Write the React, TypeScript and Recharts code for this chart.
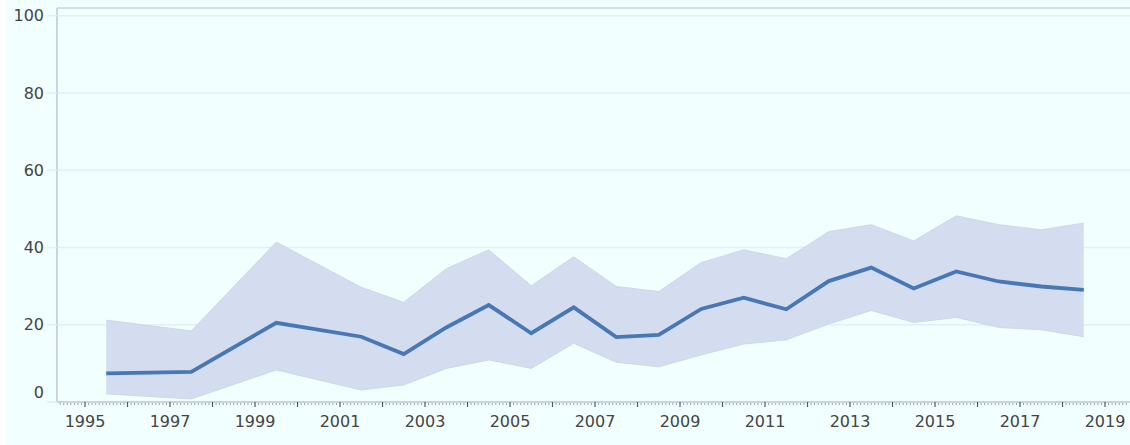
import React from "react";
import { ComposedChart, Area, Line, XAxis, YAxis, CartesianGrid, ReferenceLine } from "recharts";

const years = [1995.5, 1997.5, 1999.5, 2001.5, 2002.5, 2003.5, 2004.5, 2005.5, 2006.5, 2007.5, 2008.5, 2009.5, 2010.5, 2011.5, 2012.5, 2013.5, 2014.5, 2015.5, 2016.5, 2017.5, 2018.5];
const meanValues = [7.4, 7.8, 20.5, 16.9, 12.4, 19.3, 25.1, 17.8, 24.5, 16.8, 17.4, 24.1, 27.0, 24.0, 31.3, 34.8, 29.4, 33.8, 31.2, 29.9, 29.0];
const upperValues = [21.2, 18.4, 41.4, 29.7, 25.8, 34.5, 39.4, 30.1, 37.6, 29.9, 28.6, 36.1, 39.4, 37.1, 44.1, 45.9, 41.7, 48.2, 45.9, 44.6, 46.3];
const lowerValues = [2.1, 0.8, 8.3, 3.1, 4.4, 8.7, 10.9, 8.7, 15.2, 10.3, 9.1, 12.2, 15.0, 16.1, 20.2, 23.7, 20.6, 21.9, 19.3, 18.7, 16.9];

const xTicks = [1995, 1996, 1997, 1998, 1999, 2000, 2001, 2002, 2003, 2004, 2005, 2006, 2007, 2008, 2009, 2010, 2011, 2012, 2013, 2014, 2015, 2016, 2017, 2018, 2019];
const yTicks = [0, 20, 40, 60, 80, 100];

const minorTicks: number[] = [];
for (let y = 1994; y <= 2019; y++) {
  for (let m = 1; m < 12; m++) {
    const v = y + m / 12;
    if (v > 1994.35 && v < 2019.58) minorTicks.push(v);
  }
}

const data = years.map((year, i) => ({
  year,
  mean: meanValues[i],
  band: [lowerValues[i], upperValues[i]],
}));

const FONT = "'DejaVu Sans', Verdana, sans-serif";

const YTick = (props: any) => {
  const { x, y, payload } = props;
  const dy = payload.value === 0 ? -10 : 0;
  return (
    <text x={x} y={y + dy} dy="0.355em" textAnchor="end" fill="#444" fontSize={16} fontFamily={FONT}>
      {payload.value}
    </text>
  );
};

const MinorTick = (props: any) => {
  const { x, y } = props;
  return <line x1={x} x2={x} y1={y + 1} y2={y + 3} stroke="#9aa0a8" strokeWidth={1} />;
};

export default function App() {
  return (
    <div style={{ position: "absolute", left: 6, top: 0, width: 1124, height: 445, background: "#F2FFFF" }}>
      <ComposedChart width={1124} height={445} data={data} margin={{ top: 8, right: 0, bottom: 0, left: 0 }}>
        <CartesianGrid horizontal vertical={false} stroke="#e2eefa" strokeWidth={1.5} />
        <XAxis
          xAxisId="main"
          dataKey="year"
          type="number"
          domain={[1994.341, 2019.588]}
          allowDataOverflow
          ticks={xTicks}
          interval={0}
          tickFormatter={(v: number) => (v % 2 === 1 ? String(v) : "")}
          height={43}
          tickSize={5}
          tickMargin={9}
          axisLine={{ stroke: "#c9d3e6", strokeWidth: 2 }}
          tickLine={{ stroke: "#555", strokeWidth: 1.2 }}
          tick={{ fill: "#444", fontSize: 16, fontFamily: FONT }}
        />
        <XAxis
          xAxisId="minor"
          dataKey="year"
          type="number"
          orientation="bottom"
          mirror
          domain={[1994.341, 2019.588]}
          allowDataOverflow
          ticks={minorTicks}
          interval={0}
          height={1}
          tickSize={0}
          tickMargin={0}
          axisLine={false}
          tickLine={false}
          tick={<MinorTick />}
        />
        <YAxis
          type="number"
          domain={[0, 102]}
          ticks={yTicks}
          interval={0}
          width={51}
          tickSize={10}
          tickMargin={3}
          axisLine={{ stroke: "#c9d3e6", strokeWidth: 2 }}
          tickLine={{ stroke: "#e2eefa", strokeWidth: 1.5 }}
          tick={<YTick />}
        />
        <ReferenceLine xAxisId="main" y={102} stroke="#d3dcec" strokeWidth={2} />
        <Area
          xAxisId="main"
          dataKey="band"
          type="linear"
          stroke="#cdd6ec"
          strokeWidth={1}
          fill="#d4ddef"
          fillOpacity={1}
          isAnimationActive={false}
        />
        <Line
          xAxisId="main"
          dataKey="mean"
          type="linear"
          stroke="#4777b5"
          strokeWidth={3.8}
          dot={false}
          isAnimationActive={false}
        />
      </ComposedChart>
    </div>
  );
}
